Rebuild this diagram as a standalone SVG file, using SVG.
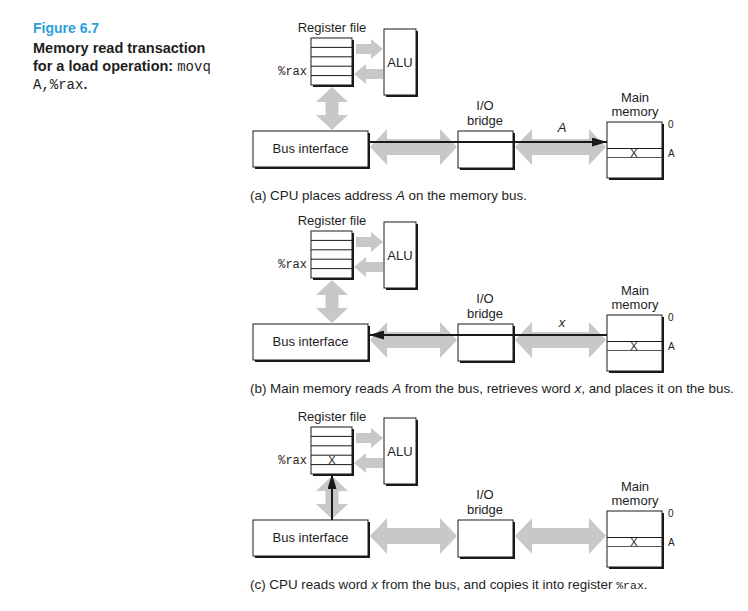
<svg xmlns="http://www.w3.org/2000/svg" width="748" height="611" viewBox="0 0 748 611">
<defs>
<style>
text{font-family:"Liberation Sans",Arial,sans-serif;fill:#1e1e1e}
.lbl{font-size:13px}
.cap{font-size:13.4px}
.sm{font-size:10px}
.mono{font-family:"Liberation Mono","Courier New",monospace;font-size:12px}
.title{font-size:14.5px;font-weight:bold}
.fig{font-size:14px;font-weight:bold;fill:#2a9fdb}
.box{fill:#fff;stroke:#1a1a1a;stroke-width:1}
.shadow{fill:#1a1a1a}
.row{stroke:#1a1a1a;stroke-width:1}
.gray{fill:#c8c8c8}
.wire{stroke:#1a1a1a;stroke-width:2;fill:none}
</style>
<marker id="ah" viewBox="0 0 15 9" refX="15" refY="4.5" markerWidth="15" markerHeight="9" markerUnits="userSpaceOnUse" orient="auto">
<path d="M0,0 L15,4.5 L0,9 Z" fill="#1a1a1a"/>
</marker>
</defs>

<g id="caption">
<text class="fig" x="33" y="33">Figure 6.7</text>
<text class="title" x="33" y="53">Memory read transaction</text>
<text class="title" x="33" y="71">for a load operation: <tspan class="mono" style="font-size:14px;font-weight:normal">movq</tspan></text>
<text class="mono" x="33" y="89" style="font-size:14px">A,%rax<tspan style="font-family:'Liberation Sans',Arial,sans-serif;font-weight:bold;font-size:14px">.</tspan></text>
</g>

<!-- Panel (a) -->
<g id="panel-a">
<g id="a-regfile">
<text class="lbl" x="332" y="32" text-anchor="middle">Register file</text>
<rect class="shadow" x="313" y="40" width="41" height="47"/>
<rect class="box" x="311" y="38" width="41" height="47"/>
<line class="row" x1="311" y1="47.4" x2="352" y2="47.4"/>
<line class="row" x1="311" y1="56.8" x2="352" y2="56.8"/>
<line class="row" x1="311" y1="66.2" x2="352" y2="66.2"/>
<line class="row" x1="311" y1="75.6" x2="352" y2="75.6"/>
<text class="mono" x="307" y="75" text-anchor="end">%rax</text>
</g>
<g id="a-alu">
<rect class="shadow" x="386" y="31" width="32" height="66"/>
<rect class="box" x="384" y="29" width="32" height="66"/>
<text class="lbl" x="400" y="67" text-anchor="middle">ALU</text>
</g>
<g id="a-bus">
<rect class="shadow" x="255" y="133" width="115" height="36"/>
<rect class="box" x="253" y="131" width="115" height="36"/>
<text class="lbl" x="310.5" y="153" text-anchor="middle">Bus interface</text>
</g>
<g id="a-bridge">
<text class="lbl" x="485" y="110" text-anchor="middle">I/O</text>
<text class="lbl" x="485" y="125" text-anchor="middle">bridge</text>
<rect class="shadow" x="460" y="133" width="55" height="37"/>
<rect class="box" x="458" y="131" width="55" height="37"/>
</g>
<g id="a-memory">
<text class="lbl" x="635" y="102" text-anchor="middle">Main</text>
<text class="lbl" x="635" y="116" text-anchor="middle">memory</text>
<rect class="shadow" x="609" y="124" width="55" height="56"/>
<rect class="box" x="607" y="122" width="55" height="56"/>
<line class="row" x1="607" y1="148.5" x2="662" y2="148.5"/>
<line x1="607" y1="157.5" x2="662" y2="157.5" stroke="#555" stroke-width="1"/>
<text x="634" y="156.5" text-anchor="middle" style="font-size:11px">X</text>
<text class="sm" x="668" y="128">0</text>
<text class="sm" x="668" y="157">A</text>
</g>
<g id="a-connectors">
<path class="gray" d="M356,44 L371,44 L371,39 L383,49 L371,59 L371,54 L356,54 Z"/>
<path class="gray" d="M383,69 L366,69 L366,64 L354,74 L366,84 L366,79 L383,79 Z"/>
<path class="gray" d="M332,87 L348,102 L338.5,102 L338.5,115 L348,115 L332,130 L316,115 L325.5,115 L325.5,102 L316,102 Z"/>
<path class="gray" d="M370,147 L387,129 L387,139 L440,139 L440,129 L457,147 L440,165 L440,155 L387,155 L387,165 Z"/>
<path class="gray" d="M515,147 L532,129 L532,139 L589,139 L589,129 L606,147 L589,165 L589,155 L532,155 L532,165 Z"/>
<line class="wire" x1="369" y1="142" x2="607" y2="142" marker-end="url(#ah)"/>
<text class="lbl" x="562" y="132" text-anchor="middle" font-style="italic">A</text>
</g>
<text class="cap" x="250" y="200">(a) CPU places address <tspan font-style="italic">A</tspan> on the memory bus.</text>
</g>

<!-- Panel (b) -->
<g id="panel-b" transform="translate(0,193)">
<g id="b-regfile">
<text class="lbl" x="332" y="32" text-anchor="middle">Register file</text>
<rect class="shadow" x="313" y="40" width="41" height="47"/>
<rect class="box" x="311" y="38" width="41" height="47"/>
<line class="row" x1="311" y1="47.4" x2="352" y2="47.4"/>
<line class="row" x1="311" y1="56.8" x2="352" y2="56.8"/>
<line class="row" x1="311" y1="66.2" x2="352" y2="66.2"/>
<line class="row" x1="311" y1="75.6" x2="352" y2="75.6"/>
<text class="mono" x="307" y="75" text-anchor="end">%rax</text>
</g>
<g id="b-alu">
<rect class="shadow" x="386" y="31" width="32" height="66"/>
<rect class="box" x="384" y="29" width="32" height="66"/>
<text class="lbl" x="400" y="67" text-anchor="middle">ALU</text>
</g>
<g id="b-bus">
<rect class="shadow" x="255" y="133" width="115" height="36"/>
<rect class="box" x="253" y="131" width="115" height="36"/>
<text class="lbl" x="310.5" y="153" text-anchor="middle">Bus interface</text>
</g>
<g id="b-bridge">
<text class="lbl" x="485" y="110" text-anchor="middle">I/O</text>
<text class="lbl" x="485" y="125" text-anchor="middle">bridge</text>
<rect class="shadow" x="460" y="133" width="55" height="37"/>
<rect class="box" x="458" y="131" width="55" height="37"/>
</g>
<g id="b-memory">
<text class="lbl" x="635" y="102" text-anchor="middle">Main</text>
<text class="lbl" x="635" y="116" text-anchor="middle">memory</text>
<rect class="shadow" x="609" y="124" width="55" height="56"/>
<rect class="box" x="607" y="122" width="55" height="56"/>
<line class="row" x1="607" y1="148.5" x2="662" y2="148.5"/>
<line x1="607" y1="157.5" x2="662" y2="157.5" stroke="#555" stroke-width="1"/>
<text x="634" y="156.5" text-anchor="middle" style="font-size:11px">X</text>
<text class="sm" x="668" y="128">0</text>
<text class="sm" x="668" y="157">A</text>
</g>
<g id="b-connectors">
<path class="gray" d="M356,44 L371,44 L371,39 L383,49 L371,59 L371,54 L356,54 Z"/>
<path class="gray" d="M383,69 L366,69 L366,64 L354,74 L366,84 L366,79 L383,79 Z"/>
<path class="gray" d="M332,87 L348,102 L338.5,102 L338.5,115 L348,115 L332,130 L316,115 L325.5,115 L325.5,102 L316,102 Z"/>
<path class="gray" d="M370,147 L387,129 L387,139 L440,139 L440,129 L457,147 L440,165 L440,155 L387,155 L387,165 Z"/>
<path class="gray" d="M515,147 L532,129 L532,139 L589,139 L589,129 L606,147 L589,165 L589,155 L532,155 L532,165 Z"/>
<line class="wire" x1="607" y1="142" x2="369" y2="142" marker-end="url(#ah)"/>
<text class="lbl" x="562" y="134" text-anchor="middle" font-style="italic">x</text>
</g>
<text class="cap" x="250" y="200">(b) Main memory reads <tspan font-style="italic">A</tspan> from the bus, retrieves word <tspan font-style="italic">x</tspan>, and places it on the bus.</text>
</g>

<!-- Panel (c) -->
<g id="panel-c" transform="translate(0,389)">
<g id="c-regfile">
<text class="lbl" x="332" y="32" text-anchor="middle">Register file</text>
<rect class="shadow" x="313" y="40" width="41" height="47"/>
<rect class="box" x="311" y="38" width="41" height="47"/>
<line class="row" x1="311" y1="47.4" x2="352" y2="47.4"/>
<line class="row" x1="311" y1="56.8" x2="352" y2="56.8"/>
<line class="row" x1="311" y1="66.2" x2="352" y2="66.2"/>
<line class="row" x1="311" y1="75.6" x2="352" y2="75.6"/>
<text class="mono" x="307" y="75" text-anchor="end">%rax</text>
<text x="332" y="75" text-anchor="middle" style="font-size:11px">X</text>
</g>
<g id="c-alu">
<rect class="shadow" x="386" y="31" width="32" height="66"/>
<rect class="box" x="384" y="29" width="32" height="66"/>
<text class="lbl" x="400" y="67" text-anchor="middle">ALU</text>
</g>
<g id="c-bus">
<rect class="shadow" x="255" y="133" width="115" height="36"/>
<rect class="box" x="253" y="131" width="115" height="36"/>
<text class="lbl" x="310.5" y="153" text-anchor="middle">Bus interface</text>
</g>
<g id="c-bridge">
<text class="lbl" x="485" y="110" text-anchor="middle">I/O</text>
<text class="lbl" x="485" y="125" text-anchor="middle">bridge</text>
<rect class="shadow" x="460" y="133" width="55" height="37"/>
<rect class="box" x="458" y="131" width="55" height="37"/>
</g>
<g id="c-memory">
<text class="lbl" x="635" y="102" text-anchor="middle">Main</text>
<text class="lbl" x="635" y="116" text-anchor="middle">memory</text>
<rect class="shadow" x="609" y="124" width="55" height="56"/>
<rect class="box" x="607" y="122" width="55" height="56"/>
<line class="row" x1="607" y1="148.5" x2="662" y2="148.5"/>
<line x1="607" y1="157.5" x2="662" y2="157.5" stroke="#555" stroke-width="1"/>
<text x="634" y="156.5" text-anchor="middle" style="font-size:11px">X</text>
<text class="sm" x="668" y="128">0</text>
<text class="sm" x="668" y="157">A</text>
</g>
<g id="c-connectors">
<path class="gray" d="M356,44 L371,44 L371,39 L383,49 L371,59 L371,54 L356,54 Z"/>
<path class="gray" d="M383,69 L366,69 L366,64 L354,74 L366,84 L366,79 L383,79 Z"/>
<path class="gray" d="M332,87 L348,102 L338.5,102 L338.5,115 L348,115 L332,130 L316,115 L325.5,115 L325.5,102 L316,102 Z"/>
<path class="gray" d="M370,147 L387,129 L387,139 L440,139 L440,129 L457,147 L440,165 L440,155 L387,155 L387,165 Z"/>
<path class="gray" d="M515,147 L532,129 L532,139 L589,139 L589,129 L606,147 L589,165 L589,155 L532,155 L532,165 Z"/>
<line class="wire" x1="332" y1="131" x2="332" y2="85" marker-end="url(#ah)"/>
</g>
<text class="cap" x="250" y="200">(c) CPU reads word <tspan font-style="italic">x</tspan> from the bus, and copies it into register <tspan class="mono" style="font-size:11.5px">%rax</tspan>.</text>
</g>
</svg>
